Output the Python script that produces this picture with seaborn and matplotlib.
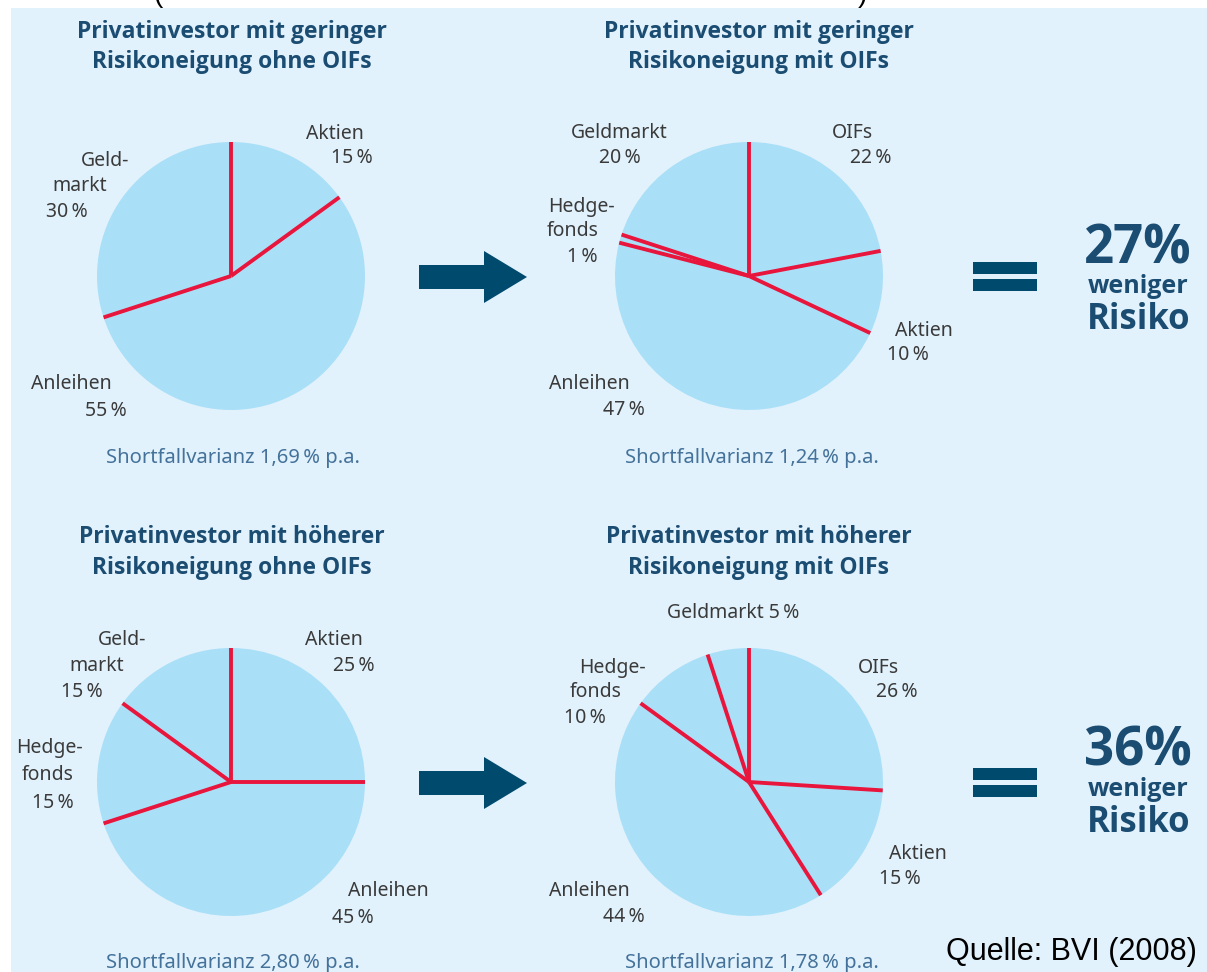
import matplotlib
matplotlib.use("Agg")
import matplotlib.pyplot as plt
import seaborn as sns
import numpy as np
from matplotlib.patches import Rectangle, Polygon
from matplotlib import font_manager as fm

# ---- portfolio allocations (percent), listed clockwise from 12 o'clock ----
low_without_cats = ["Aktien", "Anleihen", "Geldmarkt"]
low_without_vals = [15, 55, 30]

low_with_cats = ["OIFs", "Aktien", "Anleihen", "Hedgefonds", "Geldmarkt"]
low_with_vals = [22, 10, 47, 1, 20]

high_without_cats = ["Aktien", "Anleihen", "Hedgefonds", "Geldmarkt"]
high_without_vals = [25, 45, 15, 15]

high_with_cats = ["OIFs", "Aktien", "Anleihen", "Hedgefonds", "Geldmarkt"]
high_with_vals = [26, 15, 44, 10, 5]

panel_titles = [
    "Privatinvestor mit geringer\nRisikoneigung ohne OIFs",
    "Privatinvestor mit geringer\nRisikoneigung mit OIFs",
    "Privatinvestor mit höherer\nRisikoneigung ohne OIFs",
    "Privatinvestor mit höherer\nRisikoneigung mit OIFs",
]
shortfall = ["1,69", "1,24", "2,80", "1,78"]
risk_reduction = ["27", "36"]
source = "Quelle: BVI (2008)"

# ---- style ----
sns.set_theme(style="white")
plt.rcParams["font.family"] = ["Noto Sans", "DejaVu Sans"]


def bold_family():
    """Pick an installed family that really ships a bold face."""
    for fam in ["Noto Sans", "Open Sans", "Lato", "Roboto", "Liberation Sans", "DejaVu Sans"]:
        for f in fm.fontManager.ttflist:
            if f.name == fam and (f.weight in (700, "bold") or str(f.weight) == "700"):
                return fam
    return "DejaVu Sans"


BOLD = [bold_family(), "DejaVu Sans"]

W, H = 1207, 972
BG = "#E1F2FC"
PIE = "#AADFF8"
RED = "#E8163C"
NAVY = "#004A6E"
TITLE = "#1B4C72"
LABEL = "#3A3A3A"
NOTE = "#44729A"

fig = plt.figure(figsize=(W / 100, H / 100), dpi=100, facecolor="white")
ax = fig.add_axes([0, 0, 1, 1])


def Y(y):
    """Convert a top-down pixel row into the upward data coordinate."""
    return H - y


ax.add_patch(Rectangle((11, 0), W - 11, H - 8, facecolor=BG, edgecolor="none", zorder=0))

# cut-off brackets of the heading line above the panel
ax.text(158, Y(2), "(", fontsize=20, color="black", ha="center", va="baseline",
        family="Liberation Sans")
ax.text(862, Y(2), ")", fontsize=20, color="black", ha="center", va="baseline",
        family="Liberation Sans")


def pct(v):
    return f"{v}\u2009%"


def draw_pie(values, cx, cy, r=134):
    ax.pie(values, colors=[PIE] * len(values), startangle=90, counterclock=False,
           center=(cx, Y(cy)), radius=r, frame=True,
           wedgeprops=dict(linewidth=0, antialiased=True))
    total = float(sum(values))
    bounds = np.concatenate([[0], np.cumsum(values)[:-1]]) / total * 360.0
    for a in bounds:
        t = np.deg2rad(a)
        ax.plot([cx, cx + r * np.sin(t)], [Y(cy), Y(cy) + r * np.cos(t)],
                color=RED, lw=2.8, solid_capstyle="butt", zorder=5)


def lab(lines):
    for txt, x, y in lines:
        ax.text(x, Y(y), txt, fontsize=14, color=LABEL, ha="center", va="baseline")


def title(text, x, y1, y2):
    l1, l2 = text.split("\n")
    for t, y in ((l1, y1), (l2, y2)):
        ax.text(x, Y(y), t, fontsize=16.5, fontweight="bold", family=BOLD, color=TITLE,
                ha="center", va="baseline")


def note(val, x, y):
    ax.text(x, Y(y), f"Shortfallvarianz {val}\u2009% p.a.", fontsize=14.5, color=NOTE,
            ha="center", va="baseline")


# ---- panel 1 ----
title(panel_titles[0], 232, 38, 68)
draw_pie(low_without_vals, 231, 276)
v = dict(zip(low_without_cats, low_without_vals))
lab([("Aktien", 335, 139), (pct(v["Aktien"]), 352, 163),
     ("Geld-", 105, 166), ("markt", 80, 191), (pct(v["Geldmarkt"]), 67, 217),
     ("Anleihen", 71, 389), (pct(v["Anleihen"]), 106, 416)])
note(shortfall[0], 233, 463)

# ---- panel 2 ----
title(panel_titles[1], 759, 38, 68)
draw_pie(low_with_vals, 749, 276)
v = dict(zip(low_with_cats, low_with_vals))
lab([("Geldmarkt", 619, 138), (pct(v["Geldmarkt"]), 620, 163),
     ("OIFs", 852, 138), (pct(v["OIFs"]), 871, 163),
     ("Hedge-", 581, 212), ("fonds", 573, 236), (pct(v["Hedgefonds"]), 582, 262),
     ("Aktien", 924, 336), (pct(v["Aktien"]), 908, 360),
     ("Anleihen", 589, 389), (pct(v["Anleihen"]), 624, 415)])
note(shortfall[1], 752, 463)

# ---- panel 3 ----
title(panel_titles[2], 232, 543, 574)
draw_pie(high_without_vals, 231, 782)
v = dict(zip(high_without_cats, high_without_vals))
lab([("Geld-", 122, 645), ("markt", 97, 671), (pct(v["Geldmarkt"]), 82, 697),
     ("Hedge-", 49, 753), ("fonds", 48, 780), (pct(v["Hedgefonds"]), 53, 808),
     ("Aktien", 334, 645), (pct(v["Aktien"]), 354, 671),
     ("Anleihen", 388, 896), (pct(v["Anleihen"]), 353, 923)])
note(shortfall[2], 233, 968)

# ---- panel 4 ----
title(panel_titles[3], 759, 543, 574)
draw_pie(high_with_vals, 749, 782)
v = dict(zip(high_with_cats, high_with_vals))
lab([("Geldmarkt " + pct(v["Geldmarkt"]), 733, 618),
     ("Hedge-", 612, 673), ("fonds", 596, 697), (pct(v["Hedgefonds"]), 585, 723),
     ("OIFs", 878, 673), (pct(v["OIFs"]), 897, 697),
     ("Aktien", 918, 859), (pct(v["Aktien"]), 900, 884),
     ("Anleihen", 589, 896), (pct(v["Anleihen"]), 624, 922)])
note(shortfall[3], 752, 968)


# ---- arrows, equal signs and risk reduction ----
def arrow(cy):
    pts = [(419, cy - 12), (484, cy - 12), (484, cy - 26), (527, cy),
           (484, cy + 26), (484, cy + 12), (419, cy + 12)]
    ax.add_patch(Polygon([(x, Y(y)) for x, y in pts], closed=True,
                         facecolor=NAVY, edgecolor="none", zorder=3))


def equals(top):
    for y0 in (top, top + 17):
        ax.add_patch(Rectangle((973, Y(y0 + 12)), 64, 12, facecolor=NAVY,
                               edgecolor="none", zorder=3))


def reduction(val, base):
    ax.text(1138, Y(base), f"{val}%", fontsize=38, fontweight="bold", family=BOLD,
            color=TITLE, ha="center", va="baseline")
    ax.text(1138, Y(base + 30), "weniger", fontsize=18, fontweight="bold", family=BOLD,
            color=TITLE, ha="center", va="baseline")
    ax.text(1139, Y(base + 66), "Risiko", fontsize=25, fontweight="bold", family=BOLD,
            color=TITLE, ha="center", va="baseline")


arrow(277)
arrow(783)
equals(262)
equals(768)
reduction(risk_reduction[0], 263)
reduction(risk_reduction[1], 766)

ax.text(946, Y(960), source, fontsize=22, color="black", ha="left", va="baseline",
        family="Liberation Sans")

ax.set_xlim(0, W)
ax.set_ylim(0, H)
ax.set_aspect("equal")
ax.axis("off")

fig.savefig("out.png", dpi=100, facecolor="white")
